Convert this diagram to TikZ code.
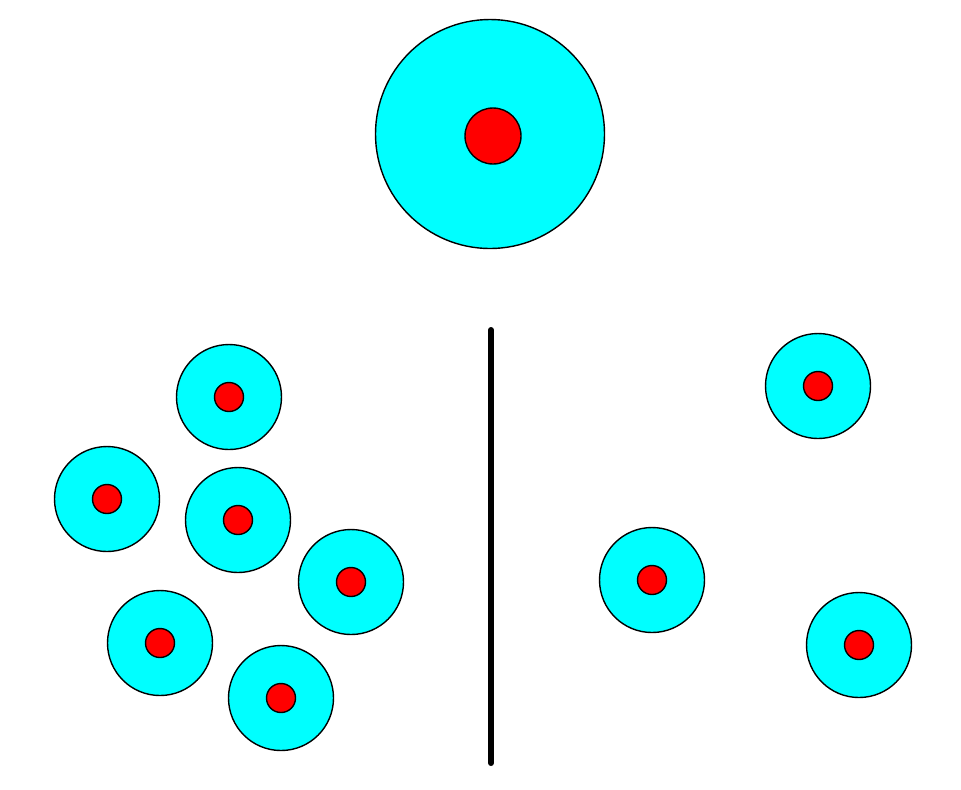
\documentclass[tikz,border=0pt]{standalone}
\usepackage{xcolor}
\usetikzlibrary{positioning}
\definecolor{shell}{HTML}{00FFFF}
\definecolor{core}{HTML}{FF0000}
\tikzset{
  cell/.style={circle, draw=black, line width=0.7pt, fill=shell, inner sep=0pt, minimum size=52.5pt},
  nucleus/.style={circle, draw=black, line width=0.7pt, fill=core, inner sep=0pt, minimum size=14.5pt},
}

\begin{document}
\begin{tikzpicture}[x=0.5pt, y=-0.5pt]
\useasboundingbox (0,0) rectangle (961,789);
% parent cell
\node[cell, minimum size=114.5pt] (big) at (490,134) {};
\node[nucleus, minimum size=28pt] (bigcore) at (493,136) {};
% left group
\foreach \i/\x/\y in {1/229/397, 2/107/499, 3/238/520, 4/351/582, 5/160/643, 6/281/698} {
  \node[cell] (l\i) at (\x,\y) {};
  \node[nucleus] (lc\i) at (l\i.center) {};
}
% right group
\foreach \i/\x/\y in {1/818/386, 2/652/580, 3/859/645} {
  \node[cell] (r\i) at (\x,\y) {};
  \node[nucleus] (rc\i) at (r\i.center) {};
}
% divider
\coordinate (divtop) at (491,330);
\coordinate (divbot) at (491,763);
\draw[line width=3pt, line cap=round] (divtop) -- (divbot);
\end{tikzpicture}
\end{document}
